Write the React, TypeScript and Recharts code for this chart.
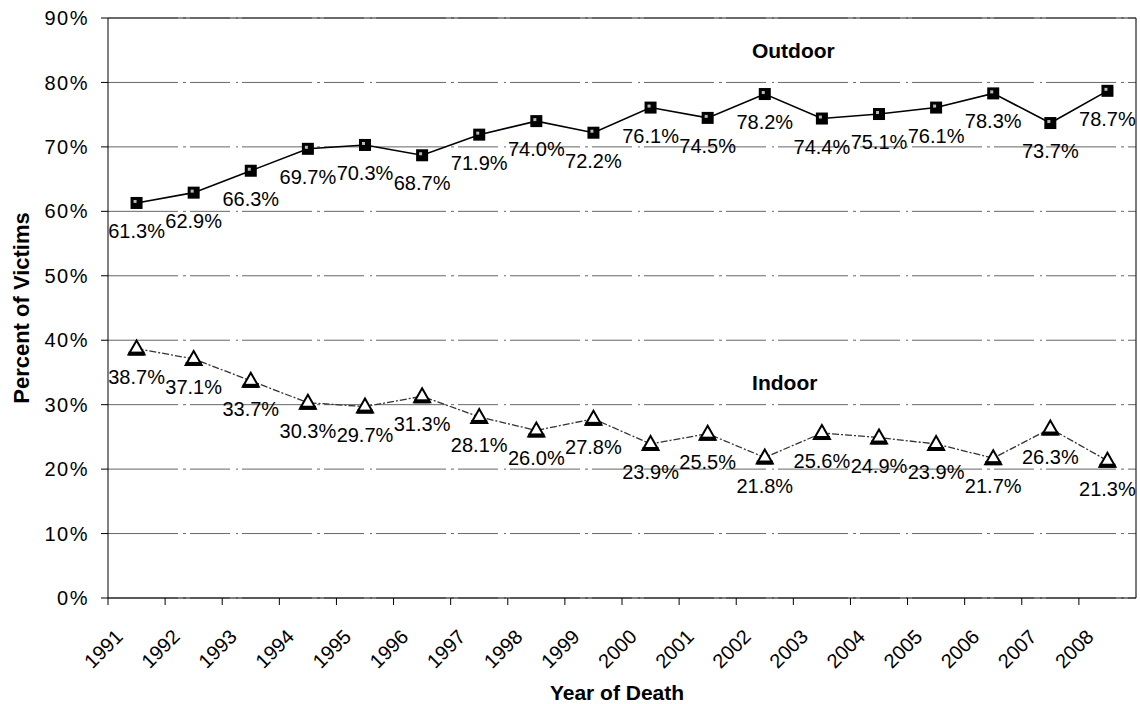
import React from "react";
import {
  LineChart,
  Line,
  XAxis,
  YAxis,
  CartesianGrid,
  LabelList,
  ReferenceLine,
  ReferenceDot,
} from "recharts";

const years = [
  1991, 1992, 1993, 1994, 1995, 1996, 1997, 1998, 1999, 2000, 2001, 2002,
  2003, 2004, 2005, 2006, 2007, 2008,
];
const outdoor = [
  61.3, 62.9, 66.3, 69.7, 70.3, 68.7, 71.9, 74.0, 72.2, 76.1, 74.5, 78.2,
  74.4, 75.1, 76.1, 78.3, 73.7, 78.7,
];
const indoor = [
  38.7, 37.1, 33.7, 30.3, 29.7, 31.3, 28.1, 26.0, 27.8, 23.9, 25.5, 21.8,
  25.6, 24.9, 23.9, 21.7, 26.3, 21.3,
];
const yTicks = [0, 10, 20, 30, 40, 50, 60, 70, 80, 90];

const FONT = "Arial, 'Liberation Sans', sans-serif";

// each year sits in the middle of its slot; tick labels mark the slot edges
const chartData = years.map((year, i) => ({
  slot: i + 0.5,
  year,
  outdoor: outdoor[i],
  indoor: indoor[i],
}));

function PctLabel(props: any) {
  const { x, y, value } = props;
  return (
    <text
      x={x}
      y={y + 28}
      textAnchor="middle"
      dominantBaseline="central"
      fontSize={20}
      fontFamily={FONT}
      fill="#000"
    >
      {Number(value).toFixed(1)}%
    </text>
  );
}

function SquareDot(props: any) {
  const { cx, cy } = props;
  if (cx == null || cy == null) return null;
  return (
    <g>
      <rect x={cx - 6} y={cy - 6} width={12} height={12} fill="#000" />
      <rect x={cx - 3} y={cy - 3} width={3} height={3} fill="#bbb" />
    </g>
  );
}

function TriangleDot(props: any) {
  const { cx, cy } = props;
  if (cx == null || cy == null) return null;
  return (
    <g>
      <polygon
        points={`${cx},${cy - 8} ${cx + 8},${cy + 6} ${cx - 8},${cy + 6}`}
        fill="#fff"
        stroke="#000"
        strokeWidth={2}
      />
      <rect x={cx - 8} y={cy + 3} width={16} height={4} fill="#000" />
    </g>
  );
}

function YearTick(props: any) {
  const { x, y, payload } = props;
  const ax = x + 16;
  const ay = y + 33;
  return (
    <text
      x={ax}
      y={ay}
      transform={`rotate(-45, ${ax}, ${ay})`}
      textAnchor="end"
      fontSize={20}
      fontFamily={FONT}
      fill="#000"
    >
      {years[payload.value]}
    </text>
  );
}

export default function App() {
  return (
    <div
      style={{
        position: "absolute",
        left: 0,
        top: 0,
        width: 1140,
        height: 704,
        background: "#fff",
      }}
    >
      <LineChart
        width={1140}
        height={704}
        data={chartData}
        margin={{ top: 18, right: 4, left: 0, bottom: 0 }}
      >
        <CartesianGrid
          vertical={false}
          stroke="#666"
          strokeDasharray="70 5 3 4 40 6 2 4"
        />
        <XAxis
          dataKey="slot"
          type="number"
          domain={[0, 18]}
          ticks={years.map((_, i) => i)}
          interval={0}
          height={106}
          tickSize={7}
          tickMargin={0}
          stroke="#000"
          tick={<YearTick />}
          label={{
            value: "Year of Death",
            position: "insideBottom",
            offset: 4,
            fontSize: 21,
            fontWeight: "bold",
            fontFamily: FONT,
            fill: "#000",
            dx: -5,
          }}
        />
        <YAxis
          type="number"
          domain={[0, 90]}
          ticks={yTicks}
          width={108}
          tickSize={7}
          tickMargin={12}
          stroke="#000"
          tickFormatter={(v: number) => `${v}%`}
          tick={{ fontSize: 20, fill: "#000", fontFamily: FONT, letterSpacing: 1.5 }}
          label={{
            value: "Percent of Victims",
            content: (p: any) => {
              const vb = p.viewBox || { x: 0, y: 18, height: 580 };
              const lx = vb.x + 21;
              const ly = vb.y + vb.height / 2;
              return (
                <text
                  x={lx}
                  y={ly}
                  transform={`rotate(-90, ${lx}, ${ly})`}
                  textAnchor="middle"
                  dominantBaseline="central"
                  fontSize={22}
                  fontWeight="bold"
                  fontFamily={FONT}
                  fill="#000"
                >
                  Percent of Victims
                </text>
              );
            },
          }}
        />
        <ReferenceLine y={90} stroke="#222" strokeWidth={1.2} />
        <ReferenceLine x={18} stroke="#222" strokeWidth={1.2} />
        <ReferenceDot
          x={12.0}
          y={84.9}
          r={0}
          fill="none"
          stroke="none"
          label={{
            value: "Outdoor",
            position: "center",
            fontSize: 21,
            fontWeight: "bold",
            fontFamily: FONT,
            fill: "#000",
          }}
        />
        <ReferenceDot
          x={11.85}
          y={33.4}
          r={0}
          fill="none"
          stroke="none"
          label={{
            value: "Indoor",
            position: "center",
            fontSize: 21,
            fontWeight: "bold",
            fontFamily: FONT,
            fill: "#000",
          }}
        />
        <Line
          dataKey="indoor"
          type="linear"
          stroke="#333"
          strokeWidth={1.3}
          strokeDasharray="7 2 2 2"
          dot={<TriangleDot />}
          isAnimationActive={false}
        >
          <LabelList dataKey="indoor" content={<PctLabel />} />
        </Line>
        <Line
          dataKey="outdoor"
          type="linear"
          stroke="#000"
          strokeWidth={1.6}
          dot={<SquareDot />}
          isAnimationActive={false}
        >
          <LabelList dataKey="outdoor" content={<PctLabel />} />
        </Line>
      </LineChart>
    </div>
  );
}
